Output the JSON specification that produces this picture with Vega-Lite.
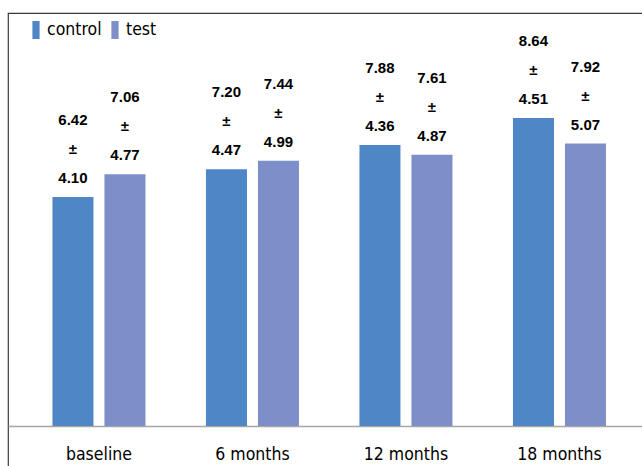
{
  "$schema": "https://vega.github.io/schema/vega-lite/v6.json",
  "width": 640,
  "height": 460,
  "autosize": {"type": "none"},
  "padding": {"left": 8, "top": 13, "right": 0, "bottom": 0},
  "background": "white",
  "config": {
    "font": "DejaVu Sans Condensed, DejaVu Sans, sans-serif",
    "view": {"stroke": "#3a3a3a", "strokeWidth": 1.2}
  },
  "data": {
    "values": [
      {"time": "baseline", "group": "control", "mean": 6.42, "sd": 4.10, "label": "6.42\n±\n4.10"},
      {"time": "baseline", "group": "test", "mean": 7.06, "sd": 4.77, "label": "7.06\n±\n4.77"},
      {"time": "6 months", "group": "control", "mean": 7.20, "sd": 4.47, "label": "7.20\n±\n4.47"},
      {"time": "6 months", "group": "test", "mean": 7.44, "sd": 4.99, "label": "7.44\n±\n4.99"},
      {"time": "12 months", "group": "control", "mean": 7.88, "sd": 4.36, "label": "7.88\n±\n4.36"},
      {"time": "12 months", "group": "test", "mean": 7.61, "sd": 4.87, "label": "7.61\n±\n4.87"},
      {"time": "18 months", "group": "control", "mean": 8.64, "sd": 4.51, "label": "8.64\n±\n4.51"},
      {"time": "18 months", "group": "test", "mean": 7.92, "sd": 5.07, "label": "7.92\n±\n5.07"}
    ]
  },
  "encoding": {
    "x": {
      "field": "time",
      "type": "nominal",
      "sort": ["baseline", "6 months", "12 months", "18 months"],
      "scale": {"paddingInner": 0.394, "paddingOuter": 0.2817, "align": 0.514},
      "axis": {
        "title": null,
        "orient": "bottom",
        "offset": -47,
        "labelAngle": 0,
        "labelFontSize": 17.5,
        "labelColor": "#000000",
        "labelPadding": 19,
        "ticks": false,
        "domain": true,
        "domainColor": "#a6a6a6",
        "domainWidth": 1.5,
        "grid": false
      }
    },
    "xOffset": {
      "field": "group",
      "type": "nominal",
      "sort": ["control", "test"],
      "scale": {"paddingInner": 0.2115, "paddingOuter": 0}
    },
    "y": {
      "field": "mean",
      "type": "quantitative",
      "scale": {"domain": [-1.318, 11.582], "nice": false, "zero": false},
      "axis": null
    }
  },
  "layer": [
    {
      "mark": {"type": "bar"},
      "encoding": {
        "color": {
          "field": "group",
          "type": "nominal",
          "sort": ["control", "test"],
          "scale": {"domain": ["control", "test"], "range": ["#4f86c6", "#7d8ec8"]},
          "legend": {
            "title": null,
            "orient": "none",
            "direction": "horizontal",
            "legendX": 19,
            "legendY": 8,
            "labelFontSize": 17.5,
            "labelColor": "#000000",
            "labelOffset": 2,
            "columnPadding": 4,
            "symbolType": "M-0.4,-1H0.4V1H-0.4Z",
            "symbolSize": 324,
            "symbolStrokeWidth": 0
          }
        },
        "y2": {"datum": 0}
      }
    },
    {
      "mark": {
        "type": "text",
        "baseline": "bottom",
        "align": "center",
        "dy": -69,
        "font": "Liberation Sans, sans-serif",
        "fontSize": 15,
        "fontWeight": "bold",
        "lineBreak": "\n",
        "lineHeight": 29,
        "color": "#000000"
      },
      "encoding": {
        "text": {"field": "label", "type": "nominal"}
      }
    }
  ]
}
